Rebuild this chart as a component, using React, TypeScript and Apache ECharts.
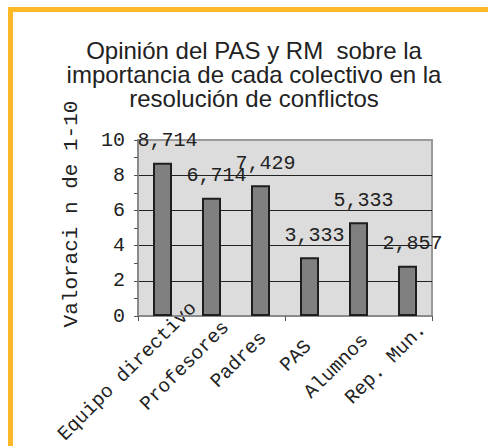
import React, { useEffect, useRef } from "react";
import * as echarts from "echarts";

const categories = ["Equipo directivo", "Profesores", "Padres", "PAS", "Alumnos", "Rep. Mun."];
const values = [8.714, 6.714, 7.429, 3.333, 5.333, 2.857];
const yTicks = { min: 0, max: 10, interval: 2 };
const titleText = "Opinión del PAS y RM  sobre la\nimportancia de cada colectivo en la\nresolución de conflictos";
const yName = "Valoraci n de 1-10";
// offset of each rotated category label's centre from its category / the zero line (layout only)
const labelOffsets = [
  [-35, 55.5],
  [-26.5, 50],
  [-21.5, 44],
  [-13.5, 40],
  [-22, 50.5],
  [-21.5, 48],
];

const MONO = "'Courier New', 'Liberation Mono', monospace";
const SANS = "Arial, 'Liberation Sans', sans-serif";

export default function App() {
  const ref = useRef<HTMLDivElement>(null);
  useEffect(() => {
    if (!ref.current) return;
    const chart = echarts.init(ref.current, null, { renderer: "svg" });
    chart.setOption({
      animation: false,
      title: {
        text: titleText,
        left: 254,
        textAlign: "center",
        top: 38,
        padding: 0,
        textStyle: {
          fontFamily: SANS,
          fontSize: 24,
          lineHeight: 24,
          fontWeight: "normal",
          color: "#222",
        },
      },
      grid: {
        left: 138,
        right: 56,
        top: 140,
        bottom: 130,
        show: true,
        backgroundColor: "#dcdcdc",
        borderColor: "#9a9a9a",
        borderWidth: 2,
      },
      xAxis: {
        type: "category",
        data: categories,
        axisLine: { show: true, lineStyle: { color: "#8a8a8a", width: 2 } },
        axisTick: { show: true, length: 5, lineStyle: { color: "#555" } },
        axisLabel: { show: false },
      },
      yAxis: {
        type: "value",
        min: yTicks.min,
        max: yTicks.max,
        interval: yTicks.interval,
        name: yName,
        nameLocation: "middle",
        nameGap: 56,
        nameTextStyle: {
          fontFamily: MONO,
          fontSize: 21,
          color: "#222",
          padding: [0, 0, 0, 28],
        },
        axisLine: { show: true, lineStyle: { color: "#8a8a8a", width: 2 } },
        axisTick: { show: true, length: 4, lineStyle: { color: "#555" } },
        minorTick: { show: true, splitNumber: 2, length: 4, lineStyle: { color: "#555" } },
        splitLine: {
          show: true,
          showMinLine: false,
          showMaxLine: false,
          lineStyle: { color: "#222", width: 1 },
        },
        axisLabel: { margin: 13, fontFamily: MONO, fontSize: 20, color: "#222" },
      },
      series: [
        {
          type: "bar",
          data: values,
          barWidth: 19,
          itemStyle: { color: "#808080", borderColor: "#1e1e1e", borderWidth: 2 },
          label: {
            show: true,
            position: "top",
            distance: 12,
            offset: [5, 0],
            fontFamily: MONO,
            fontSize: 20,
            color: "#222",
            formatter: (p: any) => p.value.toFixed(3).replace(".", ","),
          },
        },
      ],
    });

    const y0 = chart.convertToPixel({ yAxisIndex: 0 }, 0) as number;
    chart.setOption({
      graphic: categories.map((c, i) => {
        const cx = chart.convertToPixel({ xAxisIndex: 0 }, c) as number;
        return {
          type: "text",
          x: cx + labelOffsets[i][0],
          y: y0 + labelOffsets[i][1],
          rotation: Math.PI / 4,
          silent: true,
          style: {
            text: c,
            fontFamily: MONO,
            fontSize: 19.5,
            fill: "#222",
            align: "center",
            verticalAlign: "middle",
          },
        };
      }),
    });
    return () => chart.dispose();
  }, []);

  return (
    <div style={{ position: "fixed", left: 0, top: 0, width: 488, height: 446, overflow: "hidden", background: "#fff" }}>
      <div
        style={{
          position: "absolute",
          left: 8,
          top: 7,
          width: 600,
          height: 600,
          borderLeft: "5px solid #FCB827",
          borderTop: "5px solid #FCB827",
        }}
      />
      <div ref={ref} style={{ position: "absolute", left: 0, top: 0, width: 488, height: 446 }} />
    </div>
  );
}
